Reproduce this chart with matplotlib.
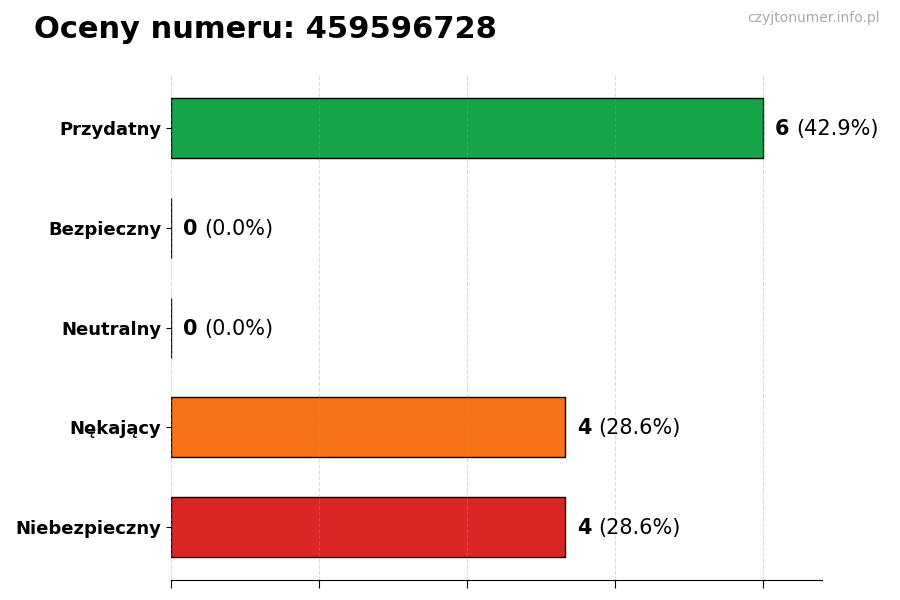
import matplotlib
matplotlib.use('Agg')
import matplotlib.pyplot as plt
from matplotlib.transforms import offset_copy

categories = ['Przydatny', 'Bezpieczny', 'Neutralny', 'Nękający', 'Niebezpieczny']
counts = [6, 0, 0, 4, 4]
colors = ['#16a34a', '#16a34a', '#9ca3af', '#f97316', '#dc2626']
number = '459596728'

total = sum(counts)

fig = plt.figure(figsize=(9, 6), dpi=100)
ax = fig.add_axes([0.19, 0.033, 0.723, 0.842])

ypos = list(range(len(categories)))[::-1]
ax.barh(ypos, counts, height=0.6, color=colors, edgecolor='black', linewidth=1, zorder=2)
ax.set_yticks(ypos)
ax.set_yticklabels(categories, fontsize=13, fontweight='bold')
ax.set_xlim(0, max(counts) * 1.1)
ax.set_xticks([0, 1.5, 3, 4.5, 6])
ax.set_xticklabels([])
ax.tick_params(axis='x', length=6)
ax.set_axisbelow(False)
ax.grid(axis='x', linestyle='--', color='#999999', alpha=0.35, linewidth=0.8, zorder=3)
for s in ['top', 'right', 'left']:
    ax.spines[s].set_visible(False)

fig.canvas.draw()
renderer = fig.canvas.get_renderer()
for y, c in zip(ypos, counts):
    pct = c / total * 100
    t = ax.text(c + 0.12, y - 0.01, str(c), fontsize=15, fontweight='bold', va='center', ha='left')
    w = t.get_window_extent(renderer).width
    tr = offset_copy(ax.transData, fig=fig, x=w + 7, y=0, units='dots')
    ax.text(c + 0.12, y - 0.01, f'({pct:.1f}%)', fontsize=15, va='center', ha='left', transform=tr)

fig.text(0.038, 0.95, f'Oceny numeru: {number}', fontsize=22, fontweight='bold', va='center', ha='left')
fig.text(0.978, 0.97, 'czyjtonumer.info.pl', fontsize=10, color='#aaaaaa', va='center', ha='right')

fig.savefig('out.png', dpi=100)
